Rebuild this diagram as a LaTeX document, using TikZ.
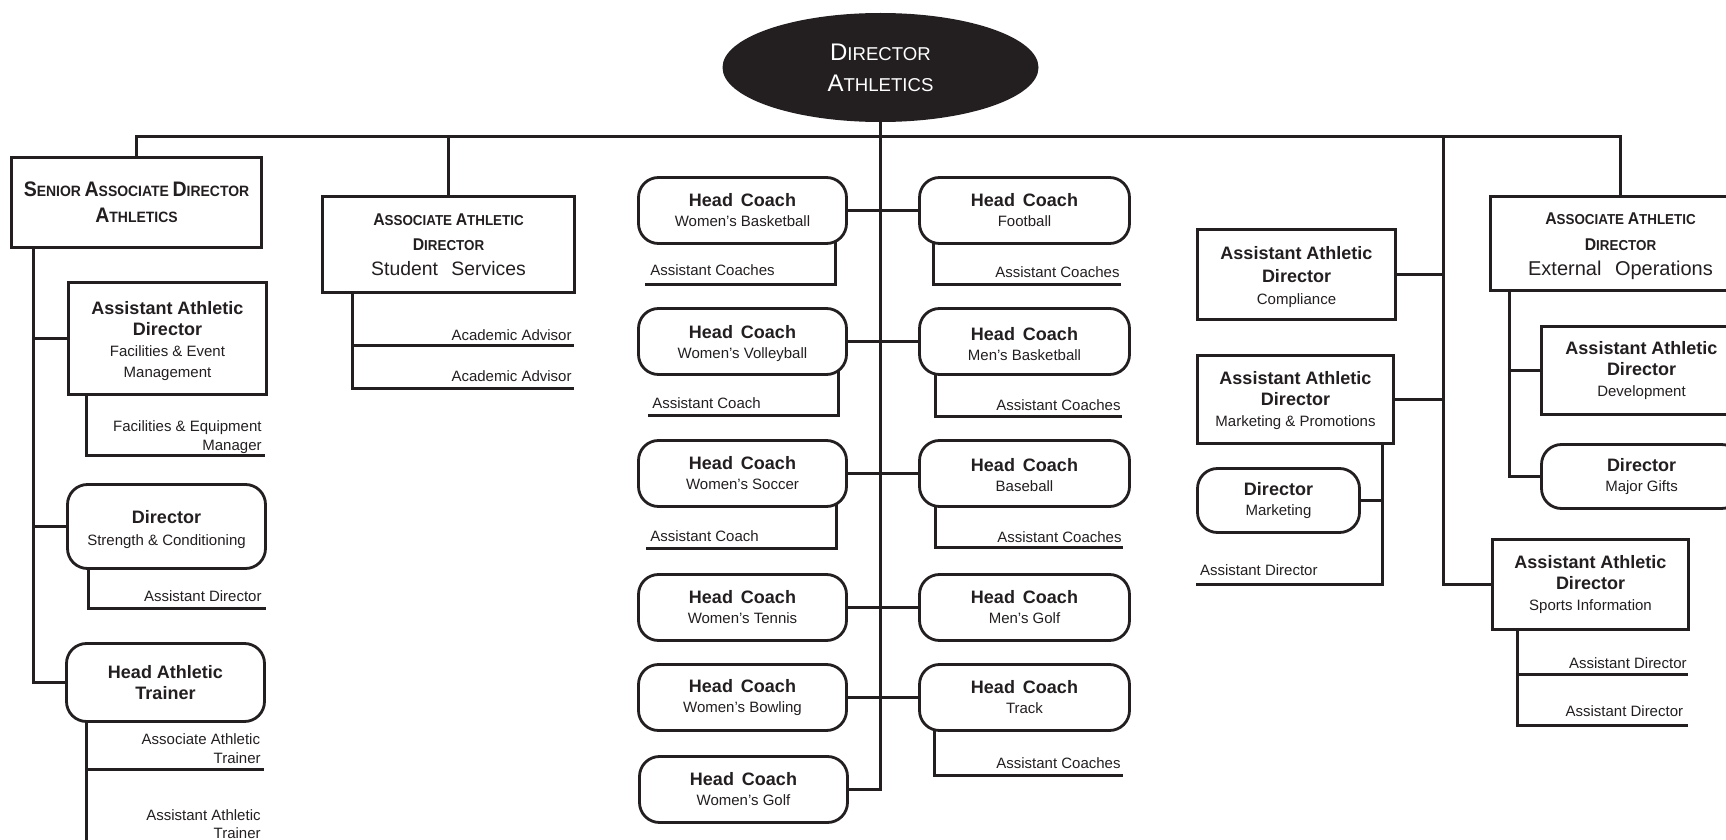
\documentclass[tikz,border=0pt]{standalone}
\usepackage{fontspec}
\setmainfont{Liberation Sans}
\usetikzlibrary{shapes.geometric,calc}
\definecolor{ink}{RGB}{35,31,32}
\pgfdeclarelayer{bg}
\pgfsetlayers{bg,main}
\newcommand{\hd}[1]{{\fontsize{9}{10}\selectfont\bfseries #1}}
\newcommand{\HCo}{\hd{Head\hspace{4pt}Coach}}
\newcommand{\scS}[2]{{\bfseries\fontsize{10.5}{12}\selectfont #1\fontsize{7.5}{12}\selectfont #2}}
\newcommand{\scA}[2]{{\bfseries\fontsize{8.5}{12}\selectfont #1\fontsize{7.2}{12}\selectfont #2}}
\newcommand{\scD}[2]{{\fontsize{12}{15}\selectfont #1\fontsize{9.3}{15}\selectfont #2}}
\newcommand{\sqS}[1]{\scalebox{0.93}[1]{#1}}
\newcommand{\sqA}[1]{\scalebox{0.93}[1]{#1}}
\newcommand{\dn}[1]{\rule{0pt}{#1}}
\begin{document}
\begin{tikzpicture}[x=0.5pt,y=-0.5pt,line width=1.4pt,color=ink,
  box/.style={draw, fill=white, inner sep=0pt, align=center, font=\fontsize{7.5}{10.5}\selectfont},
  rbox/.style={box, rounded corners=10pt},
  coach/.style={rbox, minimum width=104pt, minimum height=33pt, font=\fontsize{7.5}{10}\selectfont},
  rcoach/.style={coach, minimum width=105pt},
  lbl/.style={inner sep=0pt, font=\fontsize{7.5}{9}\selectfont},
  conn/.style={line width=1.4pt, draw=ink}]
\useasboundingbox (0,0) rectangle (1726,840);
\clip (0,0) rectangle (1726,840);

% top
\node[ellipse, fill=ink, text=white, minimum width=158pt, minimum height=54.5pt, inner sep=0pt, align=center, font=\fontsize{9.3}{15.5}\selectfont] (dir) at (880.5,67.5) {\scD{D}{IRECTOR}\\\scD{A}{THLETICS}};

% senior associate director branch
\node[box, minimum width=125pt, minimum height=45pt, font=\fontsize{7}{13}\selectfont] (sad) at (136.5,202.5) {\sqS{\scS{S}{ENIOR} \scS{A}{SSOCIATE} \scS{D}{IRECTOR}}\\\sqS{\scS{A}{THLETICS}}};
\node[box, minimum width=99pt, minimum height=56pt] (fac) at (167.5,338.5) {\dn{9.4pt}\hd{Assistant Athletic}\\\hd{Director}\\Facilities \& Event\\Management};
\node[rbox, minimum width=99pt, minimum height=42pt, font=\fontsize{7.5}{11}\selectfont] (str) at (166.5,526.5) {\dn{9.9pt}\hd{Director}\\Strength \& Conditioning};
\node[rbox, minimum width=99pt, minimum height=39pt, font=\fontsize{7.5}{10.8}\selectfont] (hat) at (165.5,682.5) {\hd{Head Athletic}\\\hd{Trainer}};

\node[lbl, anchor=base east] (facL1) at (263,431) {Facilities \& Equipment};
\node[lbl, anchor=base east] (facL2) at (263,450) {Manager};
\node[lbl, anchor=base east] (strL) at (263,601.7) {Assistant Director};
\node[lbl, anchor=base east] (hatL1) at (261.5,744) {Associate Athletic};
\node[lbl, anchor=base east] (hatL2) at (262,763.3) {Trainer};
\node[lbl, anchor=base east] (hatL3) at (262,820) {Assistant Athletic};
\node[lbl, anchor=base east] (hatL4) at (262,838.5) {Trainer};

% student services
\node[box, minimum width=126pt, minimum height=48pt, font=\fontsize{7}{12.5}\selectfont] (aads) at (448.5,244.5) {\sqA{\scA{A}{SSOCIATE} \scA{A}{THLETIC}}\\\sqA{\scA{D}{IRECTOR}}\\{\fontsize{9.7}{12.5}\selectfont Student\hspace{4pt} Services}};
\node[lbl, anchor=base east] (aaL1) at (573,340) {Academic Advisor};
\node[lbl, anchor=base east] (aaL2) at (573,381.7) {Academic Advisor};

% coaches
\node[coach] (wbb) at (742.5,210.5) {\HCo\\Women’s Basketball};
\node[rcoach] (fb) at (1024.5,210.5) {\HCo\\Football};
\node[coach] (wvb) at (742.5,341.5) {\dn{8.8pt}\HCo\\Women’s Volleyball};
\node[rcoach] (mbb) at (1024.5,341.5) {\dn{8.8pt}\HCo\\Men’s Basketball};
\node[coach] (wsoc) at (742.5,473.5) {\HCo\\Women’s Soccer};
\node[rcoach] (bb) at (1024.5,473.5) {\dn{8.2pt}\HCo\\Baseball};
\node[coach] (wten) at (742.5,607.5) {\HCo\\Women’s Tennis};
\node[rcoach] (mgolf) at (1024.5,607.5) {\HCo\\Men’s Golf};
\node[coach] (wbowl) at (742.5,697.5) {\HCo\\Women’s Bowling};
\node[rcoach] (track) at (1024.5,697.5) {\HCo\\Track};
\node[coach] (wgolf) at (743.5,789.5) {\HCo\\Women’s Golf};

\node[lbl, anchor=base west] (wbbL) at (649,276) {Assistant Coaches};
\node[lbl, anchor=base east] (fbL) at (1121,277.7) {Assistant Coaches};
\node[lbl, anchor=base west] (wvbL) at (651,408.3) {Assistant Coach};
\node[lbl, anchor=base east] (mbbL) at (1122,410.7) {Assistant Coaches};
\node[lbl, anchor=base west] (wsocL) at (649,541) {Assistant Coach};
\node[lbl, anchor=base east] (bbL) at (1123,542) {Assistant Coaches};
\node[lbl, anchor=base east] (trackL) at (1122,768.3) {Assistant Coaches};

% right side
\node[box, minimum width=99pt, minimum height=45pt, font=\fontsize{7.5}{11.25}\selectfont] (comp) at (1296.5,274.5) {\dn{9.4pt}\hd{Assistant Athletic}\\\hd{Director}\\Compliance};
\node[box, minimum width=98pt, minimum height=44pt] (mp) at (1295.5,399.5) {\dn{7.7pt}\hd{Assistant Athletic}\\\hd{Director}\\Marketing \& Promotions};
\node[rbox, minimum width=81pt, minimum height=32pt, font=\fontsize{7.5}{10.35}\selectfont] (mkt) at (1278.5,500.5) {\hd{Director}\\Marketing};
\node[lbl, anchor=base west] (mpL) at (1198.6,575) {Assistant Director};

\node[box, minimum width=130pt, minimum height=47pt, font=\fontsize{7}{12.7}\selectfont] (ext) at (1620.5,243.5) {\dn{8.8pt}\sqA{\scA{A}{SSOCIATE} \scA{A}{THLETIC}}\\\sqA{\scA{D}{IRECTOR}}\\{\fontsize{10}{12.7}\selectfont External\hspace{4pt} Operations}};
\node[box, minimum width=100pt, minimum height=44pt] (dev) at (1641.5,370.5) {\hd{Assistant Athletic}\\\hd{Director}\\Development};
\node[rbox, minimum width=100pt, minimum height=32pt, font=\fontsize{7.5}{10.35}\selectfont] (mg) at (1641.5,476.5) {\hd{Director}\\Major Gifts};

\node[box, minimum width=98pt, minimum height=45pt] (si) at (1590.5,584.5) {\hd{Assistant Athletic}\\\hd{Director}\\Sports Information};
\node[lbl, anchor=base east] (siL1) at (1688,668.3) {Assistant Director};
\node[lbl, anchor=base east] (siL2) at (1684.5,716.7) {Assistant Director};

% connectors
\coordinate (bar) at (0,136.5);
\coordinate (rsp) at (1443.5,136.5);
\coordinate (ssp) at (33.5,0);
\coordinate (facV) at (86.5,455.5);  \coordinate (facA) at (265,455.5);
\coordinate (strV) at (88.5,608.5);  \coordinate (strA) at (266,608.5);
\coordinate (hatV) at (86.5,840);    \coordinate (hatA) at (264,769.5);
\coordinate (aaV) at (352.5,388.5);  \coordinate (aaA1) at (574,345.5); \coordinate (aaA2) at (574,388.5);
\coordinate (wbbV) at (835.5,284.5); \coordinate (wbbA) at (645,284.5);
\coordinate (fbV) at (933.5,284.5);  \coordinate (fbA) at (1121,284.5);
\coordinate (wvbV) at (838.5,415.5); \coordinate (wvbA) at (648,415.5);
\coordinate (mbbV) at (935.5,416.5); \coordinate (mbbA) at (1122,416.5);
\coordinate (wsocV) at (836.5,548.5);\coordinate (wsocA) at (646,548.5);
\coordinate (bbV) at (935.5,547.5);  \coordinate (bbA) at (1123,547.5);
\coordinate (trV) at (934.5,775.5);  \coordinate (trA) at (1122.5,775.5);
\coordinate (mpV) at (1382.5,584.5); \coordinate (mpA) at (1196,584.5);
\coordinate (extV) at (1509.5,0);
\coordinate (siV) at (1517.5,725.5); \coordinate (siA1) at (1688,674.5); \coordinate (siA2) at (1688,725.5);

\begin{pgfonlayer}{bg}
\draw[conn] (sad.north) |- (ext.north |- bar) -- (ext.north);
\draw[conn] (aads.north) -- (aads.north |- bar);
\draw[conn] (dir.center) -- (dir.center |- wgolf.east) -- (wgolf.east);
\draw[conn] (rsp) |- (si.west);
\draw[conn] (comp.east) -- (comp.east -| rsp);
\draw[conn] (mp.east) -- (mp.east -| rsp);
% senior
\draw[conn] (sad.center -| ssp) |- (hat.west);
\draw[conn] (fac.west) -- (fac.west -| ssp);
\draw[conn] (str.west) -- (str.west -| ssp);
\draw[conn] (facV |- fac.center) -- (facV) -- (facA);
\draw[conn] (strV |- str.center) -- (strV) -- (strA);
\draw[conn] (hatV |- hat.center) -- (hatV);
\draw[conn] (hatV |- hatA) -- (hatA);
% student services
\draw[conn] (aaV |- aads.center) -- (aaV) -- (aaA2);
\draw[conn] (aaV |- aaA1) -- (aaA1);
% coaches
\draw[conn] (wbb.east) -- (fb.west);
\draw[conn] (wvb.east) -- (mbb.west);
\draw[conn] (wsoc.east) -- (bb.west);
\draw[conn] (wten.east) -- (mgolf.west);
\draw[conn] (wbowl.east) -- (track.west);
\draw[conn] (wbbV |- wbb.center) -- (wbbV) -- (wbbA);
\draw[conn] (fbV |- fb.center) -- (fbV) -- (fbA);
\draw[conn] (wvbV |- wvb.center) -- (wvbV) -- (wvbA);
\draw[conn] (mbbV |- mbb.center) -- (mbbV) -- (mbbA);
\draw[conn] (wsocV |- wsoc.center) -- (wsocV) -- (wsocA);
\draw[conn] (bbV |- bb.center) -- (bbV) -- (bbA);
\draw[conn] (trV |- track.center) -- (trV) -- (trA);
% marketing
\draw[conn] (mpV |- mp.center) -- (mpV) -- (mpA);
\draw[conn] (mkt.east) -- (mkt.east -| mpV);
% external
\draw[conn] (extV |- ext.center) |- (mg.west);
\draw[conn] (dev.west) -- (dev.west -| extV);
% sports info
\draw[conn] (siV |- si.center) -- (siV) -- (siA2);
\draw[conn] (siV |- siA1) -- (siA1);
\end{pgfonlayer}
\end{tikzpicture}
\end{document}
